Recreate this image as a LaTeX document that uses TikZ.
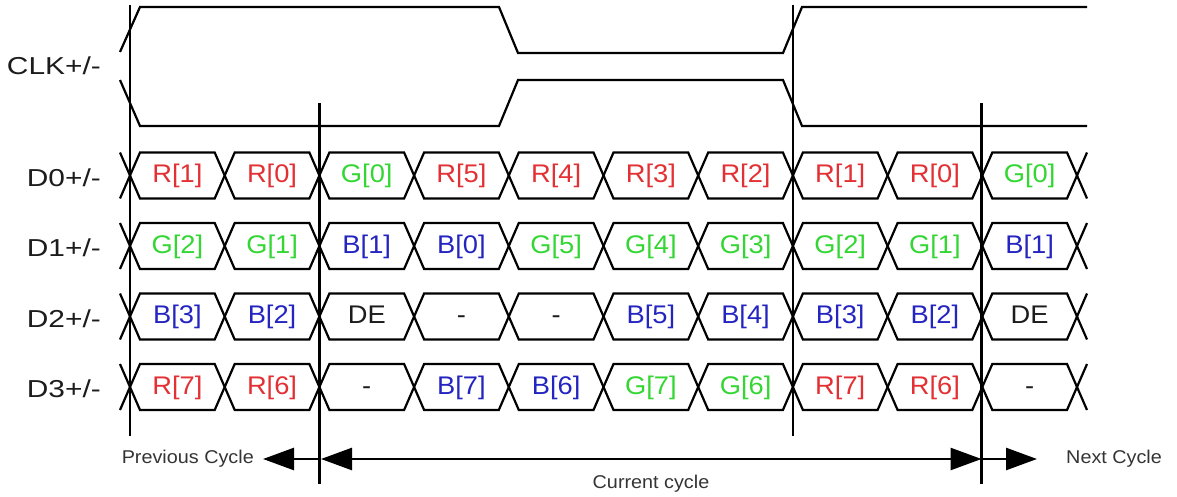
\documentclass[tikz,border=0pt]{standalone}
\usepackage{fontspec}
\setmainfont{Liberation Sans}[FakeStretch=1.07]
\newfontfamily\lblfont{Liberation Sans}[FakeStretch=1.22]
\usetikzlibrary{arrows.meta}
\definecolor{cr}{RGB}{226,48,52}
\definecolor{cg}{RGB}{52,214,52}
\definecolor{cb}{RGB}{36,36,192}
\definecolor{ck}{RGB}{28,28,28}
\definecolor{cgray}{RGB}{52,52,52}
\begin{document}
\begin{tikzpicture}[x=1pt,y=-1pt,
  wave/.style={line width=2.2pt, draw=black, line join=miter},
  marker/.style={line width=2.2pt, draw=black},
  cell/.style={font=\fontsize{25.5}{25.5}\selectfont, inner sep=0pt, text height=19pt, text depth=5pt},
  rowlbl/.style={font=\lblfont\fontsize{24.5}{24.5}\selectfont, anchor=east, inner sep=0pt, text=ck, text height=18pt, text depth=5pt},
  foot/.style={font=\fontsize{18.5}{18.5}\selectfont, inner sep=0pt, text=cgray},
  span/.style={line width=2.6pt, draw=black}]
\useasboundingbox (0,0) rectangle (1177,497);

% row labels
\node[rowlbl] (lclk) at (101,68) {CLK+/-};
\node[rowlbl] (ld0) at (101,179.5) {D0+/-};
\node[rowlbl] (ld1) at (101,250) {D1+/-};
\node[rowlbl] (ld2) at (101,320.5) {D2+/-};
\node[rowlbl] (ld3) at (101,391) {D3+/-};

% clock
\draw[wave] (120,52) -- (140,7) -- (499,7) -- (518,53) -- (783,53) -- (802,7) -- (1087,7);
\draw[wave] (120,80) -- (140,126) -- (499,126) -- (518,80) -- (783,80) -- (802,126) -- (1087,126);

% data lanes
\foreach \r/\c/\cells in {
  0/175.5/{cr/R[1],cr/R[0],cg/G[0],cr/R[5],cr/R[4],cr/R[3],cr/R[2],cr/R[1],cr/R[0],cg/G[0]},
  1/246/{cg/G[2],cg/G[1],cb/B[1],cb/B[0],cg/G[5],cg/G[4],cg/G[3],cg/G[2],cg/G[1],cb/B[1]},
  2/316.5/{cb/B[3],cb/B[2],ck/DE,ck/-,ck/-,cb/B[5],cb/B[4],cb/B[3],cb/B[2],ck/DE},
  3/387/{cr/R[7],cr/R[6],ck/-,cb/B[7],cb/B[6],cg/G[7],cg/G[6],cr/R[7],cr/R[6],ck/-}}{
  \draw[wave] (120,\c-23) -- (130,\c) -- (120,\c+23);
  \draw[wave] (1087,\c-23) -- (1077,\c) -- (1087,\c+23);
  \foreach \col/\t [count=\k from 0] in \cells {
    \pgfmathsetmacro\x{130+94.7*\k}
    \draw[wave] (\x,\c) -- (\x+10,\c-23) -- (\x+84.7,\c-23) -- (\x+94.7,\c) -- (\x+84.7,\c+23) -- (\x+10,\c+23) -- cycle;
    \node[cell,text=\col] (d\r c\k) at (\x+47.35,\c) {\t};
  }
}

% cycle markers
\coordinate (m1t) at (130,5);    \coordinate (m1b) at (130,436);
\coordinate (m2t) at (319.4,103); \coordinate (m2b) at (319.4,484);
\coordinate (m3t) at (792.9,5);  \coordinate (m3b) at (792.9,436);
\coordinate (m4t) at (981.5,103); \coordinate (m4b) at (981.5,484);
\draw[marker] (m1t) -- (m1b);
\draw[marker] (m2t) -- (m2b);
\draw[marker] (m3t) -- (m3b);
\draw[marker] (m4t) -- (m4b);

% cycle arrows
\coordinate (pa) at (319.4,459); \coordinate (pt) at (263,459);
\coordinate (ca) at (321,459);   \coordinate (cb) at (981.5,459);
\coordinate (na) at (981.5,459); \coordinate (nt) at (1037,459);
\draw[span, -{Triangle[length=31pt,width=22pt]}] (pa) -- (pt);
\draw[span, {Triangle[length=31pt,width=22pt]}-{Triangle[length=31pt,width=22pt]}] (ca) -- (cb);
\draw[span, -{Triangle[length=31pt,width=22pt]}] (na) -- (nt);

\node[foot, anchor=east] (prev) at (254,459) {Previous Cycle};
\node[foot] (cur) at (651,484) {Current cycle};
\node[foot, anchor=west] (next) at (1066,459) {Next Cycle};
\end{tikzpicture}
\end{document}
